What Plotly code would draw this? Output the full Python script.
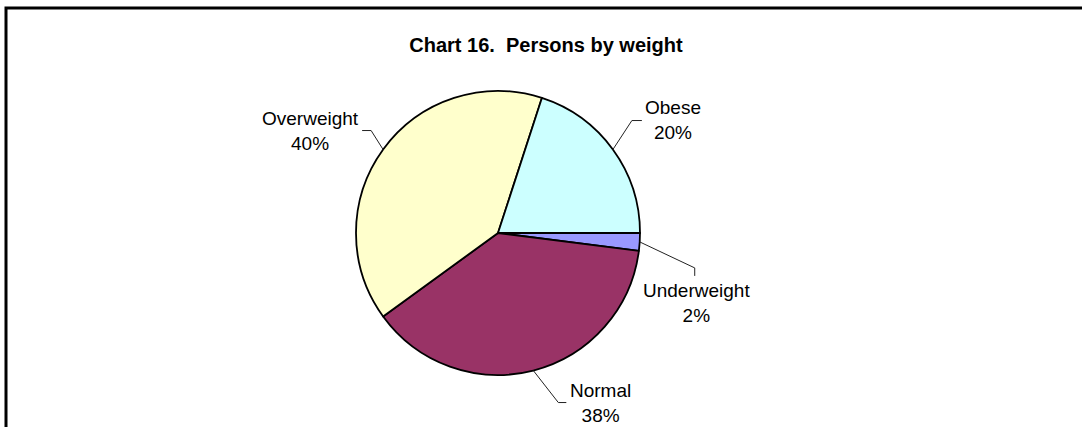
import math
import plotly.graph_objects as go

# data (clockwise from 3 o'clock)
categories = ["Underweight", "Normal", "Overweight", "Obese"]
percents = [2, 38, 40, 20]
colors = ["#9999FF", "#993366", "#FFFFCC", "#CCFFFF"]

W, H = 1082, 427
cx, cy, r = 498, 233, 142  # pie centre / radius in pixels

# label layout: pixel offsets from the slice anchor point
# (elbow, end of leader, text centre)
label_layout = {
    "Underweight": dict(elbow=(55, 26), end=(55, 34), text=(57, 61)),
    "Normal": dict(elbow=(25, 32), end=(33, 32), text=(67, 32)),
    "Overweight": dict(elbow=(-12, -19), end=(-21, -19), text=(-73, -19)),
    "Obese": dict(elbow=(19, -29), end=(29, -29), text=(60, -30)),
}

FONT = "Arial, Liberation Sans, sans-serif"


def px(x, y):
    return x / W, 1 - y / H


fig = go.Figure()
fig.add_trace(go.Pie(
    labels=categories,
    values=percents,
    sort=False,
    direction="clockwise",
    rotation=90,
    marker=dict(colors=colors, line=dict(color="black", width=1.8)),
    textinfo="none",
    hoverinfo="label+percent",
    domain=dict(x=[(cx - r) / W, (cx + r) / W], y=[1 - (cy + r) / H, 1 - (cy - r) / H]),
    showlegend=False,
))

total = sum(percents)
cum = 0
for name, v in zip(categories, percents):
    mid = -360 * (cum + v / 2) / total  # degrees, ccw from east
    cum += v
    a = math.radians(mid)
    ax, ay = cx + r * math.cos(a), cy - r * math.sin(a)
    lay = label_layout[name]
    ex, ey = ax + lay["elbow"][0], ay + lay["elbow"][1]
    nx, ny = ax + lay["end"][0], ay + lay["end"][1]
    tx, ty = ax + lay["text"][0], ay + lay["text"][1]
    p0, p1, p2 = px(ax, ay), px(ex, ey), px(nx, ny)
    fig.add_shape(type="path", xref="paper", yref="paper",
                  path=f"M {p0[0]} {p0[1]} L {p1[0]} {p1[1]} L {p2[0]} {p2[1]}",
                  line=dict(color="#222222", width=1))
    t = px(tx, ty)
    fig.add_annotation(x=t[0], y=t[1], xref="paper", yref="paper",
                       text=f"{name}<br>{round(v / total * 100)}%",
                       showarrow=False, xanchor="center", yanchor="middle",
                       font=dict(family=FONT, size=19, color="black"))

# chart frame (cropped at right and bottom)
b0, b1 = px(6, 8), px(1200, 500)
fig.add_shape(type="rect", xref="paper", yref="paper",
              x0=b0[0], y0=b1[1], x1=b1[0], y1=b0[1],
              line=dict(color="black", width=3))

fig.update_layout(
    width=W, height=H,
    margin=dict(l=0, r=0, t=0, b=0),
    paper_bgcolor="white",
    plot_bgcolor="white",
    title=dict(text="<b>Chart 16.  Persons by weight</b>",
               x=546 / W, xanchor="center", y=1 - 45 / H, yanchor="middle",
               font=dict(family=FONT, size=20, color="black")),
)

# drop the browser's default page margin so pixels line up with the window
fig.write_html("out.html", config={"displayModeBar": False},
               post_script="document.body.style.margin='0';document.body.style.overflow='hidden';")
